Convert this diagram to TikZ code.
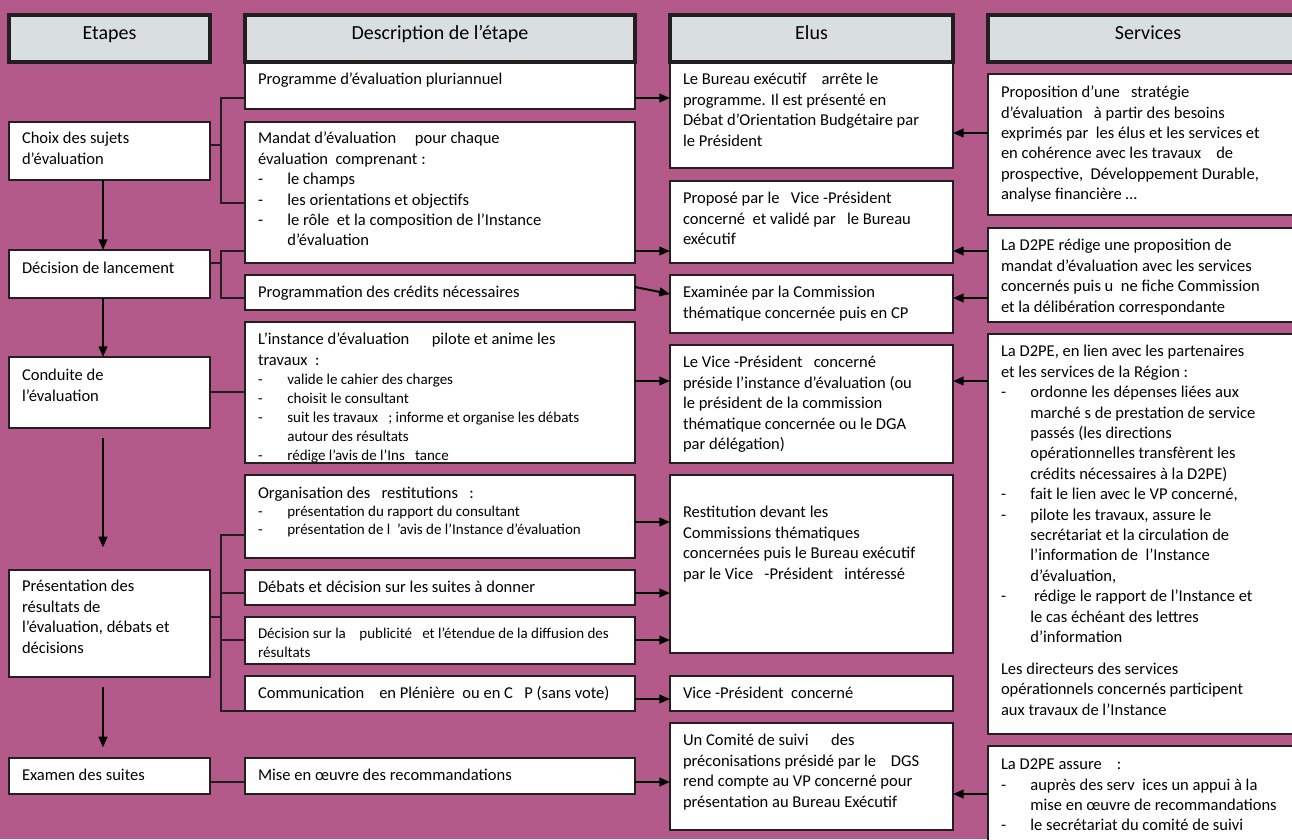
\documentclass[tikz,border=0pt]{standalone}
\usepackage{fontspec}
\setmainfont{Carlito}
\usetikzlibrary{arrows.meta}

\definecolor{fondrose}{RGB}{180,90,138}
\definecolor{entete}{RGB}{217,223,225}
\definecolor{trait}{RGB}{35,31,32}

\newcommand{\itm}[1]{\makebox[22pt][l]{-}#1}
\newcommand{\cnt}[1]{\hspace*{22pt}#1}
\newcommand{\petit}{\fontsize{11.25}{14.2}\selectfont}

\tikzset{every picture/.style={line width=0.75pt}}
\tikzset{
  bsize/.style args={#1 by #2}{minimum width=#1*0.75pt,minimum height=#2*0.75pt},
  boite/.style={draw=trait,line width=1.25pt,fill=white,anchor=north west,inner sep=0pt,outer sep=0pt},
  titre/.style={draw=trait,line width=2.5pt,fill=entete,anchor=north west,inner sep=0pt,outer sep=0pt,
    font=\fontsize{15}{18}\selectfont,text height=0.7em,text depth=0.6em},
  texte/.style={anchor=north west,align=left,inner xsep=9.75pt,inner ysep=6.5pt,outer sep=0pt,
    font=\fontsize{12.4}{15.3}\selectfont},
  lien/.style={draw=trait,line width=1pt},
  fleche/.style={draw=black,line width=1.5pt,-{Triangle[length=8pt,width=6.5pt]}},
}

\begin{document}
\begin{tikzpicture}[x=0.75pt,y=0.75pt,yscale=-1,xscale=1]
	\useasboundingbox (0,0) rectangle (1292,839);
	\clip (0,0) rectangle (1292,839);
	\fill[fondrose] (0,0) rectangle (1292,839);

	%Shape: Rectangle (etapes)
	\node[boite,bsize=201 by 58] (choix) at (9,122) {};
	\node[boite,bsize=201 by 48] (decis) at (9,250) {};
	\node[boite,bsize=201 by 71] (condu) at (9,357) {};
	\node[boite,bsize=201 by 107] (prese) at (9,570) {};
	\node[boite,bsize=201 by 36] (exam) at (9,758) {};
	%Shape: Rectangle (description)
	\node[boite,bsize=390 by 47] (prog) at (245,62) {};
	\node[boite,bsize=390 by 141] (mand) at (245,122) {};
	\node[boite,bsize=390 by 35] (progc) at (245,275) {};
	\node[boite,bsize=390 by 141] (inst) at (245,322) {};
	\node[boite,bsize=390 by 83] (orga) at (245,475) {};
	\node[boite,bsize=390 by 35] (deba) at (245,570) {};
	\node[boite,bsize=390 by 47] (pub) at (245,617) {};
	\node[boite,bsize=390 by 35] (comm) at (245,676) {};
	\node[boite,bsize=390 by 36] (mise) at (245,758) {};
	%Shape: Rectangle (elus)
	\node[boite,bsize=283 by 106] (bur) at (670,62) {};
	\node[boite,bsize=283 by 82] (prop) at (670,181) {};
	\node[boite,bsize=283 by 58] (exa) at (670,275) {};
	\node[boite,bsize=283 by 118] (vp) at (670,345) {};
	\node[boite,bsize=283 by 178] (rest) at (670,475) {};
	\node[boite,bsize=283 by 35] (vpc) at (670,676) {};
	\node[boite,bsize=283 by 107] (comi) at (670,723) {};
	%Shape: Rectangle (services)
	\node[boite,bsize=320 by 141] (strat) at (988,74) {};
	\node[boite,bsize=320 by 94] (redi) at (988,228) {};
	\node[boite,bsize=320 by 400] (lien) at (988,334) {};
	\node[boite,bsize=320 by 110] (assu) at (988,746) {};

	%Shape: Rectangle (en-tetes)
	\node[titre,bsize=201 by 47] (hEt) at (9,15) {Etapes};
	\node[titre,bsize=390 by 47] (hDe) at (245,15) {Description de l’étape};
	\node[titre,bsize=283 by 47] (hEl) at (670,15) {Elus};
	\node[titre,bsize=320 by 47] (hSe) at (988,15) {Services};

	% Text Node
	\node[texte,inner ysep=5.7pt] (choixT) at (choix.north west) {\strut Choix des sujets\\d’évaluation};
	\node[texte,inner ysep=7pt] (decisT) at (decis.north west) {\strut Décision de lancement};
	\node[texte,inner ysep=7pt] (conduT) at (condu.north west) {\strut Conduite de\\l’évaluation};
	\node[texte,inner ysep=5.7pt] (preseT) at (prese.north west) {\strut Présentation des\\résultats de\\l’évaluation, débats et\\décisions};
	\node[texte] (examT) at (exam.north west) {\strut Examen des suites};
	% Text Node
	\node[texte] (progT) at (prog.north west) {\strut Programme d’évaluation pluriannuel};
	\node[texte,inner ysep=5.7pt] (mandT) at (mand.north west) {\strut Mandat d’évaluation~~~~~pour chaque\\
		évaluation~~comprenant :\\
		\itm{le champs}\\
		\itm{les orientations et objectifs}\\
		\itm{le rôle~~et la composition de l’Instance}\\
		\cnt{d’évaluation}};
	\node[texte] (progcT) at (progc.north west) {\strut Programmation des crédits nécessaires};
	\node[texte,inner ysep=7pt,font=\fontsize{12.4}{14.2}\selectfont] (instT) at (inst.north west) {\strut L’instance d’évaluation~~~~~~pilote et anime les\\[1.5pt]
		travaux~~:\\
		\petit\itm{valide le cahier des charges}\\
		\petit\itm{choisit le consultant}\\
		\petit\itm{suit les travaux~~~; informe et organise les débats}\\
		\petit\cnt{autour des résultats}\\
		\petit\itm{rédige l’avis de l’Ins~~~tance}};
	\node[texte,inner ysep=8.2pt,font=\fontsize{12.4}{13.5}\selectfont] (orgaT) at (orga.north west) {\strut Organisation des~~~restitutions~~~:\\
		\petit\itm{présentation du rapport du consultant}\\
		\petit\itm{présentation de l~~’avis de l’Instance d’évaluation}};
	\node[texte] (debaT) at (deba.north west) {\strut Débats et décision sur les suites à donner};
	\node[texte,inner ysep=6pt,font=\petit] (pubT) at (pub.north west) {\strut Décision sur la~~~~publicité~~~et l'étendue de la diffusion des\\résultats};
	\node[texte] (commT) at (comm.north west) {\strut Communication~~~~en Plénière~~ou en C~~~P (sans vote)};
	\node[texte] (miseT) at (mise.north west) {\strut Mise en œuvre des recommandations};
	% Text Node
	\node[texte] (burT) at (bur.north west) {\strut Le Bureau exécutif~~~~arrête le\\
		programme. Il est présenté en\\
		Débat d’Orientation Budgétaire par\\
		le Président};
	\node[texte] (propT) at (prop.north west) {\strut Proposé par le~~~Vice -Président\\
		concerné~~et validé par~~~le Bureau\\
		exécutif};
	\node[texte] (exaT) at (exa.north west) {\strut Examinée par la Commission\\
		thématique concernée puis en CP};
	\node[texte] (vpT) at (vp.north west) {\strut Le Vice -Président~~~concerné\\
		préside l’instance d’évaluation (ou\\
		le président de la commission\\
		thématique concernée ou le DGA\\
		par délégation)};
	\node[texte,inner ysep=21.5pt] (restT) at (rest.north west) {\strut Restitution devant les\\
		Commissions thématiques\\
		concernées puis le Bureau exécutif\\
		par le Vice~~~-Président~~~intéressé};
	\node[texte] (vpcT) at (vpc.north west) {\strut Vice -Président~~concerné};
	\node[texte] (comiT) at (comi.north west) {\strut Un Comité de suivi~~~~~~des\\
		préconisations présidé par le~~~~DGS\\
		rend compte au VP concerné pour\\
		présentation au Bureau Exécutif};
	% Text Node
	\node[texte,inner ysep=7pt] (stratT) at (strat.north west) {\strut Proposition d’une~~~stratégie\\
		d’évaluation~~~à partir des besoins\\
		exprimés par~~les élus et les services et\\
		en cohérence avec les travaux~~~~de\\
		prospective,~~Développement Durable,\\
		analyse financière …};
	\node[texte] (rediT) at (redi.north west) {\strut La D2PE rédige une proposition de\\
		mandat d’évaluation avec les services\\
		concernés puis u~~ne fiche Commission\\
		et la délibération correspondante};
	\node[texte] (lienT) at (lien.north west) {\strut La D2PE, en lien avec les partenaires\\
		et les services de la Région :\\
		\itm{ordonne les dépenses liées aux}\\
		\cnt{marché s de prestation de service}\\
		\cnt{passés (les directions}\\
		\cnt{opérationnelles transfèrent les}\\
		\cnt{crédits nécessaires à la D2PE)}\\
		\itm{fait le lien avec le VP concerné,}\\
		\itm{pilote les travaux, assure le}\\
		\cnt{secrétariat et la circulation de}\\
		\cnt{l’information de~~l’Instance}\\
		\cnt{d’évaluation,}\\
		\itm{~rédige le rapport de l’Instance et}\\
		\cnt{le cas échéant des lettres}\\
		\cnt{d’information}\\[8.7pt]
		Les directeurs des services\\
		opérationnels concernés participent\\
		aux travaux de l'Instance};
	\node[texte,inner ysep=7pt] (assuT) at (assu.north west) {\strut La D2PE assure~~~~:\\
		\itm{auprès des serv~~ices un appui à la}\\
		\cnt{mise en œuvre de recommandations}\\
		\itm{le secrétariat du comité de suivi}};

	% points of the connectors
	\coordinate (axe) at (103,0);
	\coordinate (b1a) at (221,98);
	\coordinate (b1b) at (221,203);
	\coordinate (b1c) at (221,145);
	\coordinate (b2a) at (221,251);
	\coordinate (b2b) at (221,298);
	\coordinate (b2c) at (221,263);
	\coordinate (b3) at (221,392);
	\coordinate (b4a) at (221,535);
	\coordinate (b4b) at (221,711);
	\coordinate (b4c) at (221,617);
	\coordinate (b4d) at (221,593);
	\coordinate (b4e) at (221,640);
	\coordinate (b5) at (221,782);

	%Straight Lines (etapes)
	\draw[fleche] (choix.south -| axe) -- (decis.north -| axe);
	\draw[fleche] (decis.south -| axe) -- (condu.north -| axe);
	\draw[fleche,shorten <=7.5pt,shorten >=17pt] (condu.south -| axe) -- (prese.north -| axe);
	\draw[fleche,shorten <=7.5pt,shorten >=8pt] (prese.south -| axe) -- (exam.north -| axe);

	%Straight Lines (accolades)
	\draw[lien] (choix.east |- b1c) -- (b1c);
	\draw[lien] (prog.west |- b1a) -- (b1a) -- (b1b) -- (mand.west |- b1b);
	\draw[lien] (decis.east |- b2c) -- (b2c);
	\draw[lien] (mand.west |- b2a) -- (b2a) -- (b2b) -- (progc.west |- b2b);
	\draw[lien] (condu.east |- b3) -- (inst.west |- b3);
	\draw[lien] (prese.east |- b4c) -- (b4c);
	\draw[lien] (orga.west |- b4a) -- (b4a) -- (b4b) -- (comm.south west);
	\draw[lien] (b4d) -- (deba.west |- b4d);
	\draw[lien] (b4e) -- (pub.west |- b4e);
	\draw[lien] (exam.east |- b5) -- (mise.west |- b5);

	%Straight Lines (vers les elus)
	\draw[fleche] (prog.east |- b1a) -- (bur.west |- b1a);
	\draw[fleche] (mand.east |- b2a) -- (prop.west |- b2a);
	\draw[fleche] (progc.east |- 0,287) -- (exa.west |- 0,294);
	\draw[fleche] (inst.east |- 0,381) -- (vp.west |- 0,381);
	\draw[fleche] (orga.east |- 0,522) -- (rest.west |- 0,522);
	\draw[fleche] (deba.east |- b4d) -- (rest.west |- b4d);
	\draw[fleche] (pub.east |- b4e) -- (rest.west |- b4e);
	\draw[fleche] (comm.east |- 0,699) -- (vpc.west |- 0,699);
	\draw[fleche] (mise.east |- b5) -- (comi.west |- b5);

	%Straight Lines (depuis les services)
	\draw[fleche] (strat.west |- 0,133) -- (bur.east |- 0,133);
	\draw[fleche] (redi.west |- b2a) -- (prop.east |- b2a);
	\draw[fleche] (redi.west |- 0,298) -- (exa.east |- 0,298);
	\draw[fleche] (lien.west |- 0,381) -- (vp.east |- 0,381);
	\draw[fleche] (assu.west |- 0,794) -- (comi.east |- 0,794);

\end{tikzpicture}
\end{document}
